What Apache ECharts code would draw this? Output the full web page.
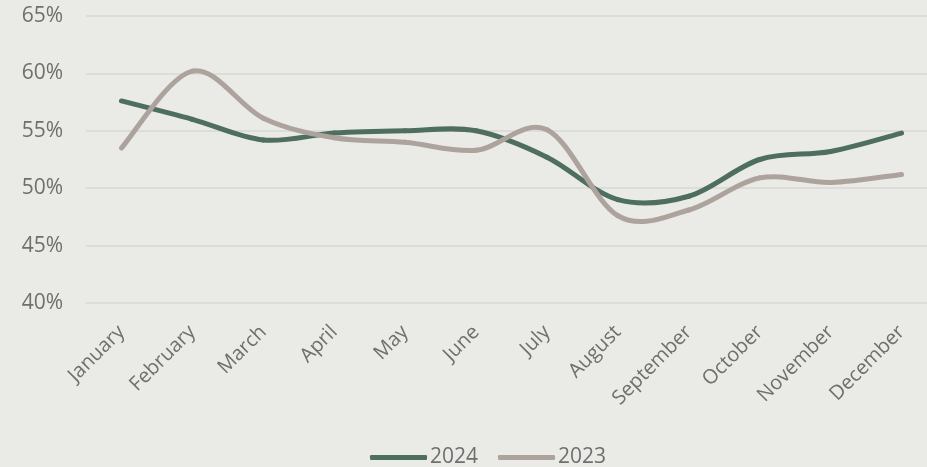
<!DOCTYPE html>
<html>
<head>
<meta charset="utf-8">
<script src="https://cdn.jsdelivr.net/npm/echarts@6/dist/echarts.min.js"></script>
<style>
html,body{margin:0;padding:0;background:#EAEAE6;overflow:hidden;width:927px;height:467px;}
#c{width:937px;height:467px;}
</style>
</head>
<body>
<div id="c"></div>
<script>
const categories = ['January','February','March','April','May','June','July','August','September','October','November','December'];
const series2024 = [57.6, 56.0, 54.2, 54.8, 55.0, 55.0, 52.7, 49.0, 49.3, 52.5, 53.2, 54.8];
const series2023 = [53.5, 60.2, 56.1, 54.4, 54.0, 53.3, 55.1, 47.6, 48.1, 50.9, 50.5, 51.2];
const yTicks = [40, 45, 50, 55, 60, 65];

// Smooth line (Catmull-Rom style, like spreadsheet smoothed lines) drawn through the chart's own axes
function smoothLine(name, values, color, z) {
  return {
    name: name,
    type: 'custom',
    coordinateSystem: 'cartesian2d',
    z: z,
    clip: false,
    data: values.map((v, i) => [i, v]),
    encode: { x: 0, y: 1 },
    itemStyle: { color: color },
    renderItem: function (params, api) {
      const i = params.dataIndex;
      const n = values.length;
      if (i >= n - 1) return null;
      const p = k => {
        const kk = Math.max(0, Math.min(n - 1, k));
        return api.coord([kk, values[kk]]);
      };
      const p0 = p(i - 1), p1 = p(i), p2 = p(i + 1), p3 = p(i + 2);
      return {
        type: 'bezierCurve',
        shape: {
          x1: p1[0], y1: p1[1], x2: p2[0], y2: p2[1],
          cpx1: p1[0] + (p2[0] - p0[0]) / 6, cpy1: p1[1] + (p2[1] - p0[1]) / 6,
          cpx2: p2[0] - (p3[0] - p1[0]) / 6, cpy2: p2[1] - (p3[1] - p1[1]) / 6
        },
        style: { stroke: color, lineWidth: 5, fill: null, lineCap: 'round' }
      };
    }
  };
}

const chart = echarts.init(document.getElementById('c'));
chart.setOption({
  backgroundColor: '#EAEAE6',
  animation: false,
  textStyle: { fontFamily: 'Open Sans' },
  grid: { left: 86, top: 16, right: 0, bottom: 164, containLabel: false },
  legend: {
    data: ['2024', '2023'],
    top: 442,
    left: 365,
    icon: 'roundRect',
    itemWidth: 57,
    itemHeight: 5,
    itemGap: 20,
    textStyle: { fontSize: 21, color: '#6f6f6f', fontFamily: 'Open Sans', padding: [0, 0, 0, -2] }
  },
  xAxis: {
    type: 'category',
    data: categories,
    boundaryGap: true,
    axisLine: { show: false },
    axisTick: { show: false },
    axisLabel: { rotate: 45, fontSize: 20, color: '#6f6f6f', margin: 26, interval: 0, fontFamily: 'Open Sans' }
  },
  yAxis: {
    type: 'value',
    min: yTicks[0],
    max: yTicks[yTicks.length - 1],
    interval: 5,
    axisLine: { show: false },
    axisTick: { show: false },
    splitLine: { lineStyle: { color: '#DCDCDA', width: 2 } },
    axisLabel: { formatter: '{value}%', fontSize: 21, color: '#6f6f6f', margin: 23, fontFamily: 'Open Sans' }
  },
  series: [
    smoothLine('2024', series2024, '#4E6E5F', 2),
    smoothLine('2023', series2023, '#ADA39D', 3)
  ]
});
</script>
</body>
</html>
